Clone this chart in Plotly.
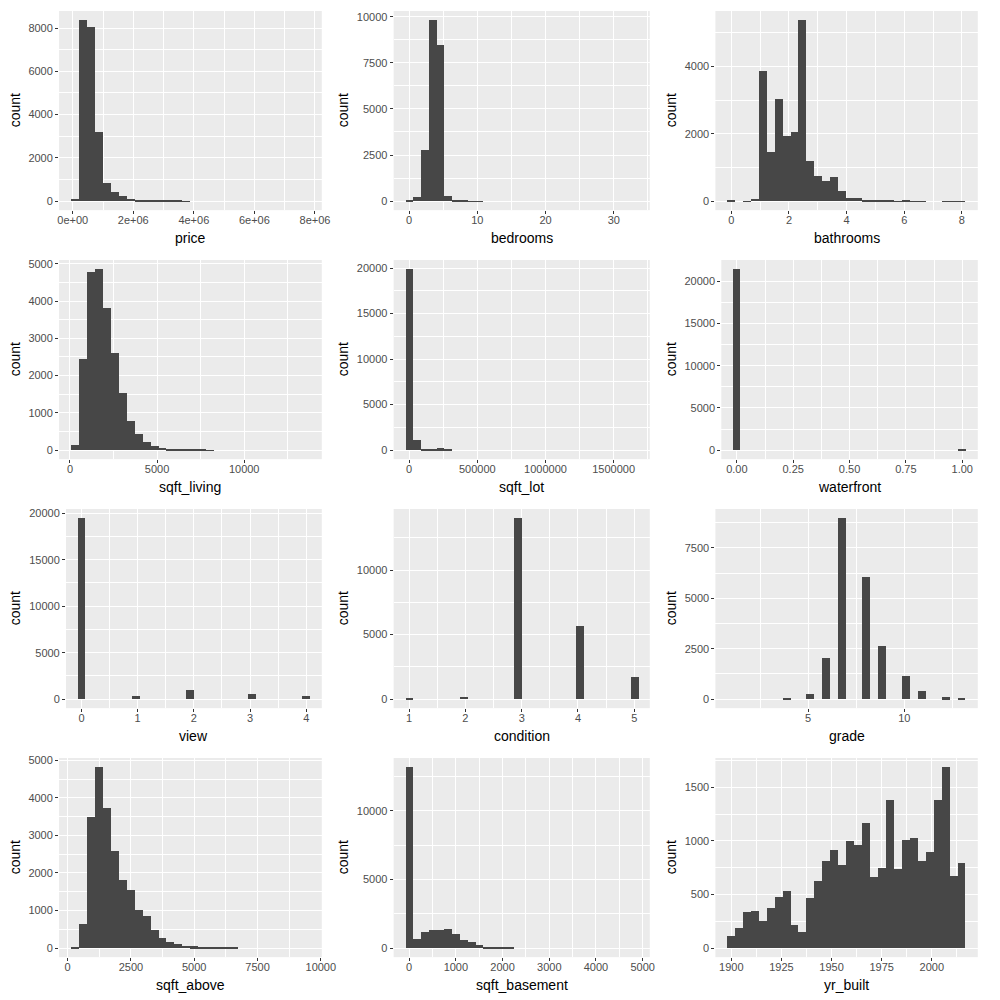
import numpy as np
import plotly.graph_objects as go

# ---------------- data (30 bins per variable, ggplot2 default) ----------------
variables = ["price", "bedrooms", "bathrooms", "sqft_living", "sqft_lot", "waterfront",
             "view", "condition", "grade", "sqft_above", "sqft_basement", "yr_built"]

# data ranges (min, max) of each variable -> bin centres
price_range = [75000, 7700000]
bedrooms_range = [0, 33]
bathrooms_range = [0, 8]
sqft_living_range = [290, 13540]
sqft_lot_range = [520, 1651359]
waterfront_range = [0, 1]
view_range = [0, 4]
condition_range = [1, 5]
grade_range = [1, 13]
sqft_above_range = [290, 9410]
sqft_basement_range = [0, 4820]
yr_built_range = [1900, 2015]

# counts (bins too small to see are 0)
price_counts = [120, 8370, 8030, 3195, 845, 430, 245, 110, 75, 60, 30, 20, 15, 10, 5,
                0, 0, 0, 0, 0, 0, 0, 0, 0, 0, 0, 0, 0, 0, 0]
bedrooms_counts = [13, 199, 2760, 9824, 8483, 272, 38, 13, 6, 3, 0, 0, 0, 0, 0,
                   0, 0, 0, 0, 0, 0, 0, 0, 0, 0, 0, 0, 0, 0, 0]
bathrooms_counts = [10, 0, 4, 72, 3852, 1455, 3048, 1930, 2047, 5380, 1185, 753, 589, 731, 291,
                    79, 100, 23, 21, 13, 10, 4, 6, 2, 4, 0, 0, 1, 1, 2]
sqft_living_counts = [130, 2450, 4770, 4860, 3815, 2620, 1540, 785, 445, 220, 115, 70, 40, 25, 15,
                      10, 6, 4, 0, 0, 0, 0, 0, 0, 0, 0, 0, 0, 0, 0]
sqft_lot_counts = [19890, 1130, 170, 90, 200, 60, 0, 0, 0, 0, 0, 0, 0, 0, 0,
                   0, 0, 0, 0, 0, 0, 0, 0, 0, 0, 0, 0, 0, 0, 0]
waterfront_counts = [21450, 0, 0, 0, 0, 0, 0, 0, 0, 0, 0, 0, 0, 0, 0,
                     0, 0, 0, 0, 0, 0, 0, 0, 0, 0, 0, 0, 0, 0, 163]
view_counts = [19489, 0, 0, 0, 0, 0, 0, 332, 0, 0, 0, 0, 0, 0, 963,
               0, 0, 0, 0, 0, 0, 0, 510, 0, 0, 0, 0, 0, 0, 319]
condition_counts = [30, 0, 0, 0, 0, 0, 0, 172, 0, 0, 0, 0, 0, 0, 14031,
                    0, 0, 0, 0, 0, 0, 0, 5679, 0, 0, 0, 0, 0, 0, 1701]
grade_counts = [0, 0, 0, 0, 0, 0, 0, 29, 0, 0, 242, 0, 2038, 0, 8981,
                0, 0, 6068, 0, 2615, 0, 0, 1134, 0, 399, 0, 0, 90, 0, 13]
sqft_above_counts = [25, 630, 3495, 4820, 3725, 2575, 1825, 1560, 1025, 850, 495, 283, 177, 106, 70,
                     45, 25, 15, 12, 8, 5, 0, 0, 0, 0, 0, 0, 0, 0, 0]
sqft_basement_counts = [13200, 680, 1170, 1340, 1340, 1410, 1000, 560, 415, 195, 120, 70, 45, 30, 0,
                        0, 0, 0, 0, 0, 0, 0, 0, 0, 0, 0, 0, 0, 0, 0]
yr_built_counts = [115, 190, 335, 345, 255, 375, 480, 535, 220, 150, 470, 625, 815, 915, 775,
                   1000, 960, 1165, 665, 745, 1380, 740, 1010, 1025, 815, 895, 1380, 1690, 675, 795]

# tick labels
price_xticks = [0, 2e6, 4e6, 6e6, 8e6]
price_xlabels = ["0e+00", "2e+06", "4e+06", "6e+06", "8e+06"]
bedrooms_xticks = [0, 10, 20, 30]
bathrooms_xticks = [0, 2, 4, 6, 8]
sqft_living_xticks = [0, 5000, 10000]
sqft_lot_xticks = [0, 500000, 1000000, 1500000]
waterfront_xticks = [0, 0.25, 0.5, 0.75, 1.0]
waterfront_xlabels = ["0.00", "0.25", "0.50", "0.75", "1.00"]
view_xticks = [0, 1, 2, 3, 4]
condition_xticks = [1, 2, 3, 4, 5]
grade_xticks = [5, 10]
sqft_above_xticks = [0, 2500, 5000, 7500, 10000]
sqft_basement_xticks = [0, 1000, 2000, 3000, 4000, 5000]
yr_built_xticks = [1900, 1925, 1950, 1975, 2000]

price_yticks = [0, 2000, 4000, 6000, 8000]
bedrooms_yticks = [0, 2500, 5000, 7500, 10000]
bathrooms_yticks = [0, 2000, 4000]
sqft_living_yticks = [0, 1000, 2000, 3000, 4000, 5000]
sqft_lot_yticks = [0, 5000, 10000, 15000, 20000]
waterfront_yticks = [0, 5000, 10000, 15000, 20000]
view_yticks = [0, 5000, 10000, 15000, 20000]
condition_yticks = [0, 5000, 10000]
grade_yticks = [0, 2500, 5000, 7500]
sqft_above_yticks = [0, 1000, 2000, 3000, 4000, 5000]
sqft_basement_yticks = [0, 5000, 10000]
yr_built_yticks = [0, 500, 1000, 1500]

panels = [
    ("price", price_range, price_counts, price_xticks, price_xlabels, price_yticks),
    ("bedrooms", bedrooms_range, bedrooms_counts, bedrooms_xticks, None, bedrooms_yticks),
    ("bathrooms", bathrooms_range, bathrooms_counts, bathrooms_xticks, None, bathrooms_yticks),
    ("sqft_living", sqft_living_range, sqft_living_counts, sqft_living_xticks, None, sqft_living_yticks),
    ("sqft_lot", sqft_lot_range, sqft_lot_counts, sqft_lot_xticks, None, sqft_lot_yticks),
    ("waterfront", waterfront_range, waterfront_counts, waterfront_xticks, waterfront_xlabels, waterfront_yticks),
    ("view", view_range, view_counts, view_xticks, None, view_yticks),
    ("condition", condition_range, condition_counts, condition_xticks, None, condition_yticks),
    ("grade", grade_range, grade_counts, grade_xticks, None, grade_yticks),
    ("sqft_above", sqft_above_range, sqft_above_counts, sqft_above_xticks, None, sqft_above_yticks),
    ("sqft_basement", sqft_basement_range, sqft_basement_counts, sqft_basement_xticks, None, sqft_basement_yticks),
    ("yr_built", yr_built_range, yr_built_counts, yr_built_xticks, None, yr_built_yticks),
]

# ---------------- layout (pixel geometry of the 1000x1000 canvas) ----------------
W = H = 1000
panel_left = [58, 398, 725, 58, 398, 731, 65, 398, 725, 58, 398, 725]
FONT = "Liberation Sans, Arial, Helvetica, sans-serif"
BAR = "#474747"
TICKC = "#4D4D4D"

fig = go.Figure()
layout = dict(
    width=W, height=H, margin=dict(l=0, r=0, t=0, b=0),
    paper_bgcolor="white", plot_bgcolor="#EBEBEB",
    showlegend=False, bargap=0, barmode="overlay",
    font=dict(family=FONT, size=11, color=TICKC),
)
annotations = []

for i, (name, rng, counts, xt, xl, yt) in enumerate(panels):
    r, c = divmod(i, 3)
    n = len(counts)
    lo, hi = rng
    bw = (hi - lo) / (n - 1)
    centers = np.linspace(lo, hi, n)
    e0, e1 = lo - bw / 2, hi + bw / 2
    xr = [e0 - 0.05 * (e1 - e0), e1 + 0.05 * (e1 - e0)]
    ymax = max(counts)
    yr = [-0.05 * ymax, 1.05 * ymax]

    ax = "" if i == 0 else str(i + 1)
    fig.add_trace(go.Bar(x=centers, y=counts, width=bw, marker=dict(color=BAR, line=dict(width=0)),
                         xaxis="x" + ax, yaxis="y" + ax, hoverinfo="x+y"))

    x0 = panel_left[i] / W
    x1 = (c * 1000 / 3 + 325) / W
    ytop = 250 * r + 7
    ybot = 250 * r + 207
    y0 = 1 - ybot / H
    y1 = 1 - ytop / H

    xstep = xt[1] - xt[0]
    ystep = yt[1] - yt[0]
    common = dict(showline=False, zeroline=False, ticks="outside", ticklen=3, tickwidth=1,
                  tickcolor="#333333", showgrid=True, gridcolor="white", gridwidth=1.2,
                  tickfont=dict(family=FONT, size=11, color=TICKC))
    layout["xaxis" + ax] = dict(
        common, domain=[x0, x1], anchor="y" + ax, range=xr, ticklabelstandoff=-3,
        tickmode="array", tickvals=xt, ticktext=xl if xl else [f"{v:g}" if v < 1e5 else str(int(v)) for v in xt],
        minor=dict(tickmode="linear", tick0=xt[0], dtick=xstep / 2, showgrid=True,
                   gridcolor="white", gridwidth=0.6, ticks=""),
    )
    layout["yaxis" + ax] = dict(
        common, domain=[y0, y1], anchor="x" + ax, range=yr,
        tickmode="array", tickvals=yt, ticktext=[str(int(v)) for v in yt],
        minor=dict(tickmode="linear", tick0=yt[0], dtick=ystep / 2, showgrid=True,
                   gridcolor="white", gridwidth=0.6, ticks=""),
    )
    # axis titles
    annotations.append(dict(text=name, xref="paper", yref="paper",
                            x=(panel_left[i] + c * 1000 / 3 + 325) / 2 / W, y=1 - (250 * r + 235) / H,
                            xanchor="center", yanchor="middle", showarrow=False,
                            font=dict(family=FONT, size=14, color="black")))
    annotations.append(dict(text="count", xref="paper", yref="paper",
                            x=(c * 1000 / 3 + 13) / W, y=1 - (250 * r + 107) / H,
                            xanchor="center", yanchor="middle", textangle=-90, showarrow=False,
                            font=dict(family=FONT, size=14, color="black")))

layout["annotations"] = annotations
fig.update_layout(**layout)
fig.write_html("out.html")
